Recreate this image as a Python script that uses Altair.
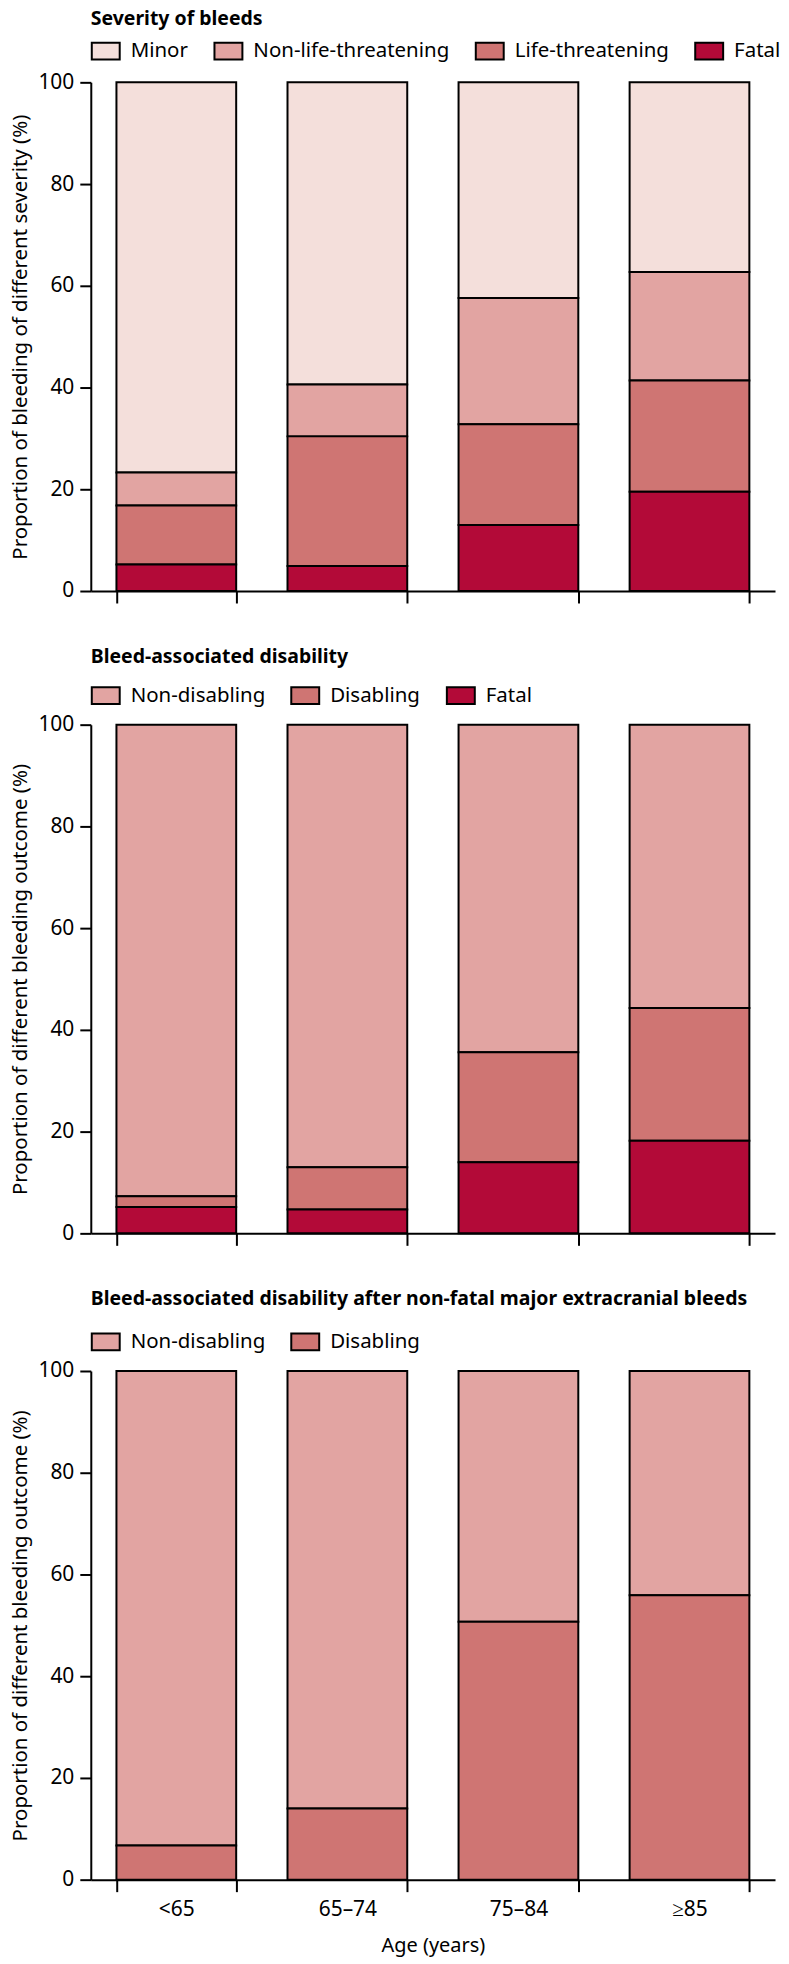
import altair as alt
import pandas as pd

FONT = "Noto Sans"

ages = ["<65", "65–74", "75–84", "≥85"]

# Panel 1: severity of bleeds (% of bleeds in each age group)
sev_categories = ["Minor", "Non-life-threatening", "Life-threatening", "Fatal"]
sev_minor = [76.7, 59.4, 42.4, 37.3]
sev_nonlife = [6.5, 10.2, 24.8, 21.3]
sev_life = [11.6, 25.5, 19.8, 21.9]
sev_fatal = [5.2, 4.9, 13.0, 19.5]

# Panel 2: bleed-associated disability
dis_categories = ["Non-disabling", "Disabling", "Fatal"]
dis_nondisabling = [92.7, 87.0, 64.4, 55.7]
dis_disabling = [2.1, 8.3, 21.6, 26.1]
dis_fatal = [5.2, 4.7, 14.0, 18.2]

# Panel 3: disability after non-fatal major extracranial bleeds
nf_categories = ["Non-disabling", "Disabling"]
nf_nondisabling = [93.3, 86.0, 49.3, 44.1]
nf_disabling = [6.7, 14.0, 50.7, 55.9]

colors = {
    "Minor": "#f4dfdb",
    "Non-life-threatening": "#e2a4a2",
    "Life-threatening": "#cf7573",
    "Fatal": "#b30a38",
    "Non-disabling": "#e2a4a2",
    "Disabling": "#cf7573",
}

y_ticks = [0, 20, 40, 60, 80, 100]

PLOT_W = 686
PLOT_H = 510


def long_df(categories, series):
    rows = []
    n = len(categories)
    for ci, (cat, vals) in enumerate(zip(categories, series)):
        for a, v in zip(ages, vals):
            rows.append({"age": a, "category": cat, "value": v, "stack_rank": n - 1 - ci})
    return pd.DataFrame(rows)


def panel(title, ytitle, categories, series, last, legend_y, title_pad):
    df = long_df(categories, series)
    x_axis_kwargs = dict(
        tickBand="extent",
        domainColor="black",
        domainWidth=2,
        tickColor="black",
        tickWidth=2,
        tickSize=12,
        labelAngle=0,
        labelFont=FONT,
        labelFontSize=21,
        labelColor="black",
        labelPadding=7,
        titleFont=FONT,
        titleFontSize=20,
        titleFontWeight="normal",
        titleColor="black",
        titlePadding=16,
        grid=False,
    )
    if last:
        x_axis_kwargs["title"] = "Age (years)"
    else:
        x_axis_kwargs["title"] = None
        x_axis_kwargs["labels"] = False

    legend = alt.Legend(
        orient="none",
        legendX=0,
        legendY=legend_y,
        direction="horizontal",
        columns=len(categories),
        title=title,
        titleFont=FONT,
        titleFontSize=19.5,
        titleFontWeight="bold",
        titleColor="black",
        titleAnchor="start",
        titleOrient="top",
        titlePadding=title_pad,
        titleLimit=680,
        symbolType="M-1,-0.6H1V0.6H-1Z",
        symbolSize=784,
        symbolStrokeColor="black",
        symbolStrokeWidth=2,
        symbolOpacity=1,
        labelFont=FONT,
        labelFontSize=20.5,
        labelColor="black",
        labelOffset=10,
        labelLimit=300,
        columnPadding=22,
        padding=0,
    )

    chart = (
        alt.Chart(df)
        .mark_bar(stroke="black", strokeWidth=2)
        .encode(
            x=alt.X(
                "age:N",
                sort=ages,
                scale=alt.Scale(paddingInner=0.3, paddingOuter=0.15),
                axis=alt.Axis(**x_axis_kwargs),
            ),
            y=alt.Y(
                "value:Q",
                stack="zero",
                scale=alt.Scale(domain=[0, 100], nice=False),
                axis=alt.Axis(
                    values=y_ticks,
                    title=ytitle,
                    domainColor="black",
                    domainWidth=2,
                    tickColor="black",
                    tickWidth=2,
                    tickSize=11,
                    labelFont=FONT,
                    labelFontSize=21,
                    labelColor="black",
                    labelPadding=6,
                    titleFont=FONT,
                    titleFontSize=20.5,
                    titleFontWeight="normal",
                    titleColor="black",
                    titlePadding=7,
                    grid=False,
                ),
            ),
            color=alt.Color(
                "category:N",
                sort=categories,
                scale=alt.Scale(domain=categories, range=[colors[c] for c in categories]),
                legend=legend,
            ),
            order=alt.Order("stack_rank:Q", sort="ascending"),
        )
        .properties(width=PLOT_W, height=PLOT_H)
    )
    return chart


p1 = panel(
    "Severity of bleeds",
    "Proportion of bleeding of different severity (%)",
    sev_categories,
    [sev_minor, sev_nonlife, sev_life, sev_fatal],
    False,
    -72,
    6,
)
p2 = panel(
    "Bleed-associated disability",
    "Proportion of different bleeding outcome (%)",
    dis_categories,
    [dis_nondisabling, dis_disabling, dis_fatal],
    False,
    -77,
    13,
)
p3 = panel(
    "Bleed-associated disability after non-fatal major extracranial bleeds",
    "Proportion of different bleeding outcome (%)",
    nf_categories,
    [nf_nondisabling, nf_disabling],
    True,
    -81,
    17,
)

chart = (
    alt.vconcat(p1, p2, p3, spacing=44)
    .resolve_scale(color="independent")
    .resolve_legend(color="independent")
    .configure_view(stroke=None)
    .properties(padding={"left": 2, "top": 0, "right": 0, "bottom": 0})
)

chart.save("out.html", embed_options={"renderer": "svg", "actions": False})
